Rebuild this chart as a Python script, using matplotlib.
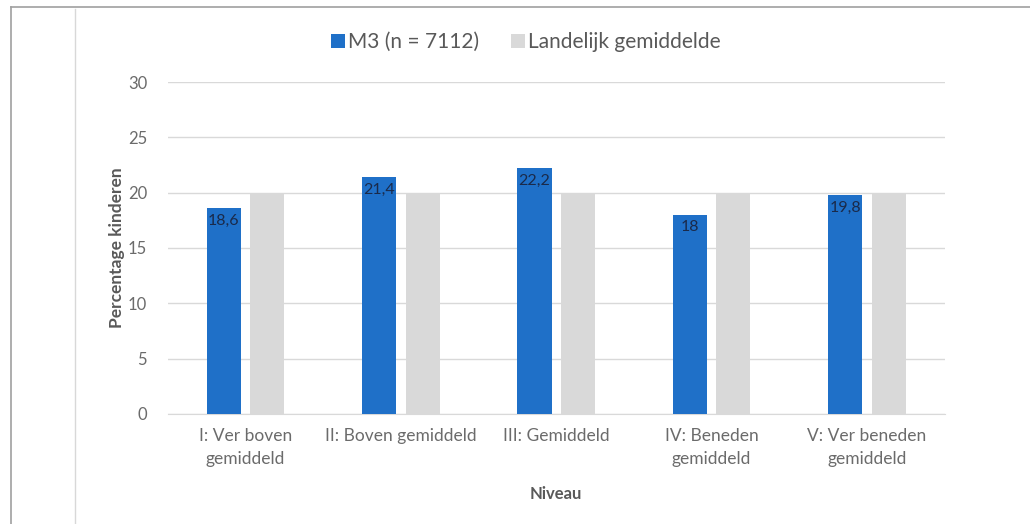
import matplotlib
matplotlib.use("Agg")
import matplotlib.pyplot as plt
from matplotlib.lines import Line2D
import numpy as np

categories = ["I: Ver boven\ngemiddeld", "II: Boven gemiddeld", "III: Gemiddeld",
              "IV: Beneden\ngemiddeld", "V: Ver beneden\ngemiddeld"]
m3 = [18.6, 21.4, 22.2, 18.0, 19.8]
landelijk = [20, 20, 20, 20, 20]
m3_labels = ["18,6", "21,4", "22,2", "18", "19,8"]

plt.rcParams['font.family'] = ['Lato', 'DejaVu Sans']

fig = plt.figure(figsize=(10.3, 5.24), dpi=100)
ax = fig.add_axes([0.163, 0.21, 0.754, 0.6335])

x = np.arange(len(categories))
w = 0.22
off = 0.14
blue = "#1f70c8"
grey = "#d9d9d9"

b1 = ax.bar(x - off, m3, w, color=blue, label="M3 (n = 7112)", zorder=3)
ax.bar(x + off, landelijk, w, color=grey, label="Landelijk gemiddelde", zorder=3)

for rect, lab in zip(b1, m3_labels):
    ax.text(rect.get_x() + rect.get_width() / 2, rect.get_height() - 0.5, lab,
            ha="center", va="top", fontsize=11.5, color="#1a2a4a", zorder=4)

ax.set_xlim(-0.5, 4.5)
ax.set_ylim(0, 30)
ax.set_yticks(range(0, 31, 5))
ax.yaxis.grid(True, color="#d9d9d9", linewidth=1, zorder=0)
ax.set_axisbelow(True)
for s in ["top", "right", "left"]:
    ax.spines[s].set_visible(False)
ax.spines["bottom"].set_color("#d9d9d9")
ax.tick_params(axis="both", length=0, colors="#6b6b6b")
ax.tick_params(axis="y", pad=15, labelsize=12)
ax.tick_params(axis="x", pad=10, labelsize=12.5)
ax.set_xticks(x)
ax.set_xticklabels(categories, linespacing=1.55)

ax.set_ylabel("Percentage kinderen", fontsize=12.5, fontweight="bold", color="#595959", labelpad=2)
ax.set_xlabel("Niveau", fontsize=12, fontweight="bold", color="#595959", labelpad=14)

ax.legend(loc="center", bbox_to_anchor=(0.461, 1.12), ncol=2, frameon=False,
          fontsize=15, handlelength=0.7, handleheight=0.7, handletextpad=0.15,
          columnspacing=1.5, labelcolor="#595959", borderpad=0)

# frame lines of the screenshot
fig.add_artist(Line2D([11 / 1030, 1], [1 - 7 / 524, 1 - 7 / 524], color="#a0a0a0", lw=1.2))
fig.add_artist(Line2D([11 / 1030, 11 / 1030], [0, 1 - 7 / 524], color="#a0a0a0", lw=1.2))
fig.add_artist(Line2D([75 / 1030, 75 / 1030], [0, 1 - 9 / 524], color="#d8d8d8", lw=1))

fig.savefig("out.png", dpi=100)
